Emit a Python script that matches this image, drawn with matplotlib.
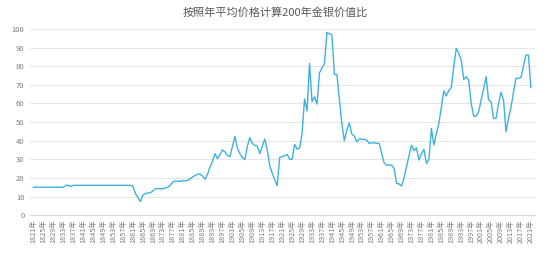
import matplotlib
matplotlib.use('Agg')
import matplotlib.pyplot as plt

plt.rcParams['font.family'] = ['Noto Sans CJK SC', 'DejaVu Sans']

title = '按照年平均价格计算200年金银价值比'
years = list(range(1821, 2022))
# 金银比，逐年（1821-2021）
ratio = [
    15, 15, 15, 15, 15, 15, 15, 15, 15, 15,                      # 1821-1830
    15, 15, 15, 16, 16, 15.4, 16, 16, 16, 16,                    # 1831-1840
    16, 16, 16, 16, 16, 16, 16, 16, 16, 16,                      # 1841-1850
    16, 16, 16, 16, 16, 16, 16, 16, 16, 16,                      # 1851-1860
    15.5, 11.5, 9.5, 7.3, 10.8, 11.6, 11.9, 12.0, 13.0, 14.2,    # 1861-1870
    14.3, 14.2, 14.2, 14.5, 15.0, 16.0, 17.8, 18.3, 18.2, 18.2,  # 1871-1880
    18.5, 18.5, 18.7, 19.5, 20.5, 21.3, 22.0, 22.0, 21.0, 19.3,  # 1881-1890
    22.0, 26.0, 29.0, 33.0, 30.3, 32.5, 35.0, 34.0, 32.0, 31.5,  # 1891-1900
    37.0, 42.3, 36.0, 33.0, 31.0, 29.9, 37.0, 41.6, 38.5, 37.5,  # 1901-1910
    37.0, 33.0, 37.0, 40.9, 35.0, 26.5, 22.5, 19.0, 15.8, 31.0,  # 1911-1920
    31.4, 32.0, 32.6, 30.0, 30.0, 38.0, 35.5, 36.0, 44.0, 62.4,  # 1921-1930
    56.0, 81.5, 61.0, 63.6, 59.7, 76.5, 79.0, 81.5, 98.2, 97.5,  # 1931-1940
    96.8, 75.6, 75.6, 62.0, 49.0, 40.0, 45.7, 49.6, 43.5, 42.5,  # 1941-1950
    39.4, 41.0, 40.8, 40.7, 40.3, 38.5, 38.8, 38.9, 38.6, 38.5,  # 1951-1960
    33.2, 28.0, 26.9, 26.9, 26.9, 25.0, 17.0, 16.8, 15.6, 20.0,  # 1961-1970
    26.0, 32.0, 37.6, 34.6, 36.2, 29.6, 33.0, 35.3, 27.8, 29.9,  # 1971-1980
    46.6, 37.6, 44.0, 49.3, 58.0, 66.8, 64.0, 67.0, 68.6, 80.0,  # 1981-1990
    89.6, 86.9, 83.3, 72.9, 74.4, 72.5, 60.0, 53.2, 53.2, 55.6,  # 1991-2000
    62.0, 68.0, 74.4, 61.8, 60.9, 52.0, 52.0, 60.0, 66.0, 61.8,  # 2001-2010
    44.8, 52.0, 58.0, 66.0, 73.5, 73.5, 74.0, 80.0, 86.0, 86.0,  # 2011-2020
    68.6,                                                        # 2021
]
tick_years = list(range(1821, 2022, 4))
tick_labels = [f'{y}年' for y in tick_years]

fig = plt.figure(figsize=(5.5, 2.57), dpi=100)
ax = fig.add_axes([0.0545, 0.163, 0.918, 0.724])

ax.plot(years, ratio, color='#3DB2DE', linewidth=1.0)

ax.set_xlim(1819.6, 2022.6)
ax.set_ylim(0, 100)
ax.set_yticks(range(0, 101, 10))
ax.set_xticks(tick_years)
ax.set_xticklabels(tick_labels, rotation=90, fontsize=5.2, color='#7f7f7f')
ax.tick_params(axis='y', labelsize=5.5, labelcolor='#7f7f7f', length=0, pad=4)
ax.tick_params(axis='x', length=0, pad=3)
ax.grid(axis='y', color='#e6e6e6', linewidth=0.8)
ax.set_axisbelow(True)
for s in ['top', 'right', 'left']:
    ax.spines[s].set_visible(False)
ax.spines['bottom'].set_color('#d9d9d9')
ax.spines['bottom'].set_linewidth(0.8)

fig.text(0.5, 0.953, title, ha='center', va='center', fontsize=8, color='#595959')

fig.savefig('out.png', dpi=100)
